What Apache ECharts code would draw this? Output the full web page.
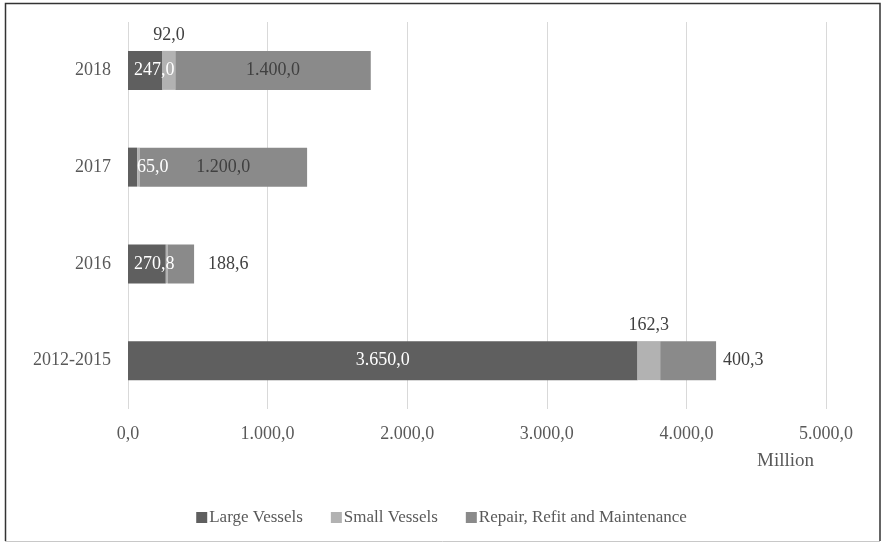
<!DOCTYPE html>
<html>
<head>
<meta charset="utf-8">
<script src="https://cdn.jsdelivr.net/npm/echarts@6/dist/echarts.min.js"></script>
<style>
html,body{margin:0;padding:0;background:#fff;}
#chart{width:883px;height:543px;}
</style>
</head>
<body>
<div id="chart"></div>
<script>
const categories = ['2012-2015', '2016', '2017', '2018'];
const largeVessels = [3650, 270.8, 65, 247];
const smallVessels = [162.3, 14, 18, 92];
const repairRefit = [400.3, 188.6, 1200, 1400];
const seriesNames = ['Large Vessels', 'Small Vessels', 'Repair, Refit and Maintenance'];
const xTicks = [0, 1000, 2000, 3000, 4000, 5000];

const FONT = "'Liberation Serif', 'Times New Roman', serif";

function fmt(v) {
  const s = Number(v).toFixed(1).split('.');
  const intPart = s[0].replace(/\B(?=(\d{3})+(?!\d))/g, '.');
  return intPart + ',' + s[1];
}

const baseLabel = { fontFamily: FONT, fontSize: 18, formatter: p => fmt(p.value) };

const largeLabels = [
  { show: true, position: 'inside' },
  { show: true, position: 'insideLeft', distance: 6 },
  { show: true, position: 'right', distance: 0 },
  { show: true, position: 'insideLeft', distance: 6 }
];
const smallLabels = [
  { show: true, position: 'top', distance: 7 },
  { show: false },
  { show: false },
  { show: true, position: 'top', distance: 7 }
];
const repairLabels = [
  { show: true, position: 'right', distance: 7 },
  { show: true, position: 'right', distance: 14 },
  { show: true, position: 'inside' },
  { show: true, position: 'inside' }
];

function build(values, labels) {
  return values.map((v, i) => ({ value: v, label: labels[i] }));
}

const chart = echarts.init(document.getElementById('chart'), null, { renderer: 'canvas' });
chart.setOption({
  animation: false,
  backgroundColor: '#fff',
  textStyle: { fontFamily: FONT },
  grid: { left: 128, right: 57, top: 22, bottom: 134, containLabel: false },
  legend: {
    data: seriesNames,
    left: 'center',
    top: 504,
    itemWidth: 11,
    itemHeight: 11,
    itemGap: 28,
    icon: 'rect',
    textStyle: { fontFamily: FONT, fontSize: 17, color: '#595959', padding: [0, 0, 0, -3] }
  },
  xAxis: {
    type: 'value',
    min: 0,
    max: 5000,
    interval: 1000,
    axisLine: { show: false },
    axisTick: { show: false },
    splitLine: { show: true, lineStyle: { color: '#d9d9d9', width: 1 } },
    axisLabel: {
      fontFamily: FONT, fontSize: 18, color: '#595959', margin: 16,
      formatter: v => xTicks.indexOf(v) >= 0 ? fmt(v) : ''
    }
  },
  yAxis: {
    type: 'category',
    data: categories,
    axisLine: { show: false },
    axisTick: { show: false },
    splitLine: { show: false },
    axisLabel: { fontFamily: FONT, fontSize: 18, color: '#595959', margin: 17 }
  },
  graphic: [
    { type: 'polyline', shape: { points: [[5.5, 541], [5.5, 3.5], [880, 3.5], [880, 541]] },
      style: { stroke: '#333', lineWidth: 1.5, fill: null }, z: 100 },
    { type: 'line', shape: { x1: 5, y1: 541.5, x2: 880, y2: 541.5 },
      style: { stroke: '#c8c8c8', lineWidth: 1 }, z: 100 },
    { type: 'text', left: 757, top: 452,
      style: { text: 'Million', font: "19px 'Liberation Serif', 'Times New Roman', serif", fill: '#595959' } }
  ],
  series: [
    {
      name: seriesNames[0], type: 'bar', stack: 'total', barWidth: 39,
      itemStyle: { color: '#5f5f5f' },
      label: Object.assign({}, baseLabel, { color: '#ffffff' }),
      data: build(largeVessels, largeLabels)
    },
    {
      name: seriesNames[1], type: 'bar', stack: 'total', barWidth: 39,
      itemStyle: { color: '#b2b2b2' },
      label: Object.assign({}, baseLabel, { color: '#404040' }),
      data: build(smallVessels, smallLabels)
    },
    {
      name: seriesNames[2], type: 'bar', stack: 'total', barWidth: 39,
      itemStyle: { color: '#8a8a8a' },
      label: Object.assign({}, baseLabel, { color: '#404040' }),
      data: build(repairRefit, repairLabels)
    }
  ]
});
</script>
</body>
</html>
